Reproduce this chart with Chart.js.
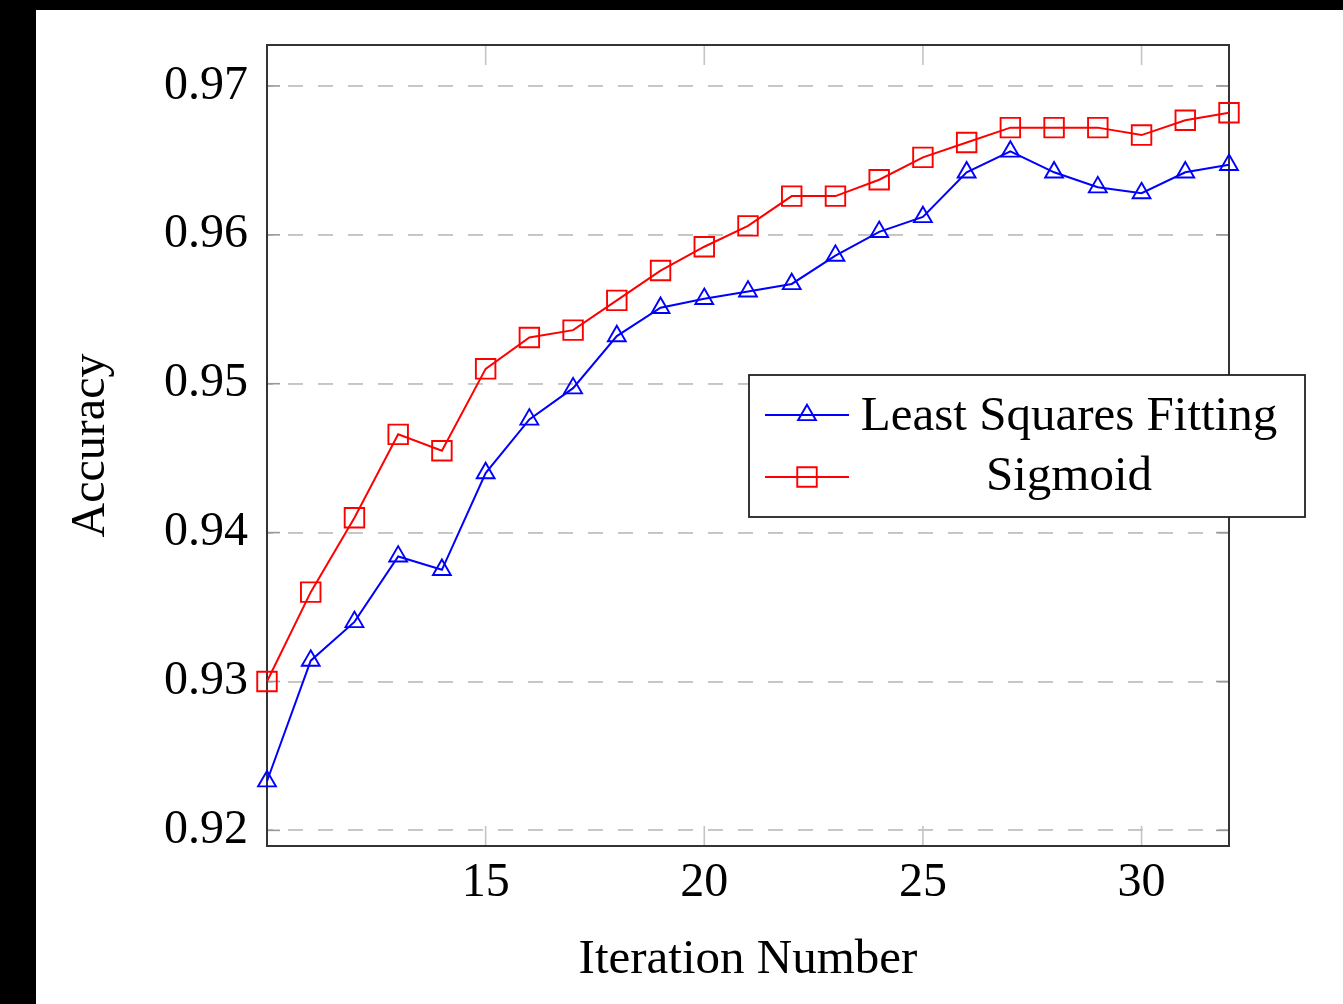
<!DOCTYPE html>
<html>
<head>
<meta charset="utf-8">
<title>Accuracy vs Iteration Number</title>
<script src="https://cdn.jsdelivr.net/npm/chart.js@4.4.0/dist/chart.umd.min.js"></script>
<style>
  html, body { margin: 0; padding: 0; background: #000; overflow: hidden; }
  #frame { position: absolute; left: 36px; top: 10px; width: 1307px; height: 994px; background: #fff; }
  canvas { display: block; }
</style>
</head>
<body>
<div id="frame"><canvas id="accuracyChart" width="1307" height="994"></canvas></div>
<script>
// Accuracy per iteration for the two fitting methods
const iterations = [10, 11, 12, 13, 14, 15, 16, 17, 18, 19, 20, 21, 22, 23, 24, 25, 26, 27, 28, 29, 30, 31, 32];
const leastSquaresAcc = [0.9233, 0.9314, 0.9340, 0.9384, 0.9375, 0.9440, 0.9476, 0.9497, 0.9532, 0.9551, 0.9557, 0.9562, 0.9567, 0.9586, 0.9602, 0.9612, 0.9642, 0.9656, 0.9642, 0.9632, 0.9628, 0.9642, 0.9647];
const sigmoidAcc = [0.9300, 0.9360, 0.9410, 0.9466, 0.9455, 0.9510, 0.9531, 0.9536, 0.9556, 0.9576, 0.9592, 0.9606, 0.9626, 0.9626, 0.9637, 0.9652, 0.9662, 0.9672, 0.9672, 0.9672, 0.9667, 0.9677, 0.9682];
const seriesNames = ['Least Squares Fitting', 'Sigmoid'];
const xTickValues = [15, 20, 25, 30];
const yTickValues = [0.92, 0.93, 0.94, 0.95, 0.96, 0.97];

const SERIF = "'Liberation Serif', 'DejaVu Serif', serif";

function toPoints(ys) {
    return iterations.map((x, i) => ({ x: x, y: ys[i] }));
}

function strokeLine(ctx, x1, y1, x2, y2) {
    ctx.beginPath();
    ctx.moveTo(x1, y1);
    ctx.lineTo(x2, y2);
    ctx.stroke();
}

// same geometry as chart.js point styles
function drawMarker(ctx, style, radius, x, y) {
    ctx.beginPath();
    if (style === 'triangle') {
        for (let k = 0; k < 3; k++) {
            const a = k * 2 * Math.PI / 3;
            const px = x + Math.sin(a) * radius;
            const py = y - Math.cos(a) * radius;
            if (k === 0) ctx.moveTo(px, py); else ctx.lineTo(px, py);
        }
        ctx.closePath();
    } else {
        const s = Math.SQRT1_2 * radius;
        ctx.rect(x - s, y - s, 2 * s, 2 * s);
    }
    ctx.stroke();
}

// pgfplots-like box: frame, inner ticks and a boxed legend
const axisFramePlugin = {
    id: 'axisFrame',
    beforeDatasetsDraw(chart) {
        const { ctx, chartArea: a, scales: { x, y } } = chart;
        ctx.save();
        ctx.lineWidth = 1.6;
        ctx.strokeStyle = '#c4c4c4';
        xTickValues.forEach(v => {
            const px = x.getPixelForValue(v);
            strokeLine(ctx, px, a.bottom, px, a.bottom - 20);
            strokeLine(ctx, px, a.top, px, a.top + 20);
        });
        ctx.strokeStyle = '#999';
        yTickValues.forEach(v => {
            const py = y.getPixelForValue(v);
            strokeLine(ctx, a.left, py, a.left + 13, py);
            strokeLine(ctx, a.right, py, a.right - 13, py);
        });
        ctx.lineWidth = 2;
        ctx.strokeStyle = '#333';
        ctx.strokeRect(a.left, a.top, a.right - a.left, a.bottom - a.top);
        ctx.restore();
    },
    afterDraw(chart) {
        const ctx = chart.ctx;
        const box = { left: 713, top: 365, width: 556, height: 142 };
        const rows = [405, 467];
        const baselines = [420, 480];
        ctx.save();
        ctx.fillStyle = '#fff';
        ctx.fillRect(box.left, box.top, box.width, box.height);
        ctx.lineWidth = 1.8;
        ctx.strokeStyle = '#222';
        ctx.strokeRect(box.left, box.top, box.width, box.height);

        chart.data.datasets.forEach((ds, i) => {
            ctx.strokeStyle = ds.borderColor;
            ctx.lineWidth = ds.borderWidth;
            strokeLine(ctx, 729, rows[i], 813, rows[i]);
            ctx.lineWidth = ds.pointBorderWidth;
            drawMarker(ctx, ds.pointStyle, ds.pointRadius, 771, rows[i]);
            ctx.fillStyle = '#000';
            ctx.font = '49px ' + SERIF;
            ctx.textAlign = 'center';
            ctx.textBaseline = 'alphabetic';
            ctx.fillText(ds.label, 1033, baselines[i]);
        });
        ctx.restore();
    }
};

const ctx = document.getElementById('accuracyChart').getContext('2d');
new Chart(ctx, {
    type: 'line',
    data: {
        datasets: [
            {
                label: seriesNames[0],
                data: toPoints(leastSquaresAcc),
                borderColor: '#0000ff',
                borderWidth: 2,
                pointStyle: 'triangle',
                pointRadius: 10.3,
                pointBorderWidth: 1.9,
                pointBorderColor: '#0000ff',
                pointBackgroundColor: 'rgba(0,0,0,0)',
                tension: 0,
                clip: false
            },
            {
                label: seriesNames[1],
                data: toPoints(sigmoidAcc),
                borderColor: '#ff0000',
                borderWidth: 2,
                pointStyle: 'rect',
                pointRadius: 13.8,
                pointBorderWidth: 1.9,
                pointBorderColor: '#ff0000',
                pointBackgroundColor: 'rgba(0,0,0,0)',
                tension: 0,
                clip: false
            }
        ]
    },
    options: {
        responsive: false,
        animation: false,
        devicePixelRatio: 1,
        layout: { padding: { left: 0, top: 35, right: 114, bottom: 0 } },
        plugins: {
            legend: { display: false },
            tooltip: { enabled: false }
        },
        scales: {
            x: {
                type: 'linear',
                min: 10,
                max: 32,
                afterBuildTicks: scale => { scale.ticks = xTickValues.map(v => ({ value: v })); },
                afterFit: scale => {
                    scale.height = 158;
                    scale.paddingLeft = 0;
                    scale.paddingRight = 0;
                },
                grid: { display: false, drawTicks: false },
                border: { display: false },
                ticks: {
                    padding: 9,
                    color: '#000',
                    font: { family: SERIF, size: 48 },
                    callback: v => String(v)
                },
                title: {
                    display: true,
                    text: 'Iteration Number',
                    color: '#000',
                    font: { family: SERIF, size: 49, lineHeight: 1 },
                    padding: { top: 0, bottom: 19 }
                }
            },
            y: {
                min: 0.91895,
                max: 0.97275,
                afterBuildTicks: scale => { scale.ticks = yTickValues.map(v => ({ value: v })); },
                afterFit: scale => {
                    scale.width = 231;
                    scale.paddingTop = 0;
                    scale.paddingBottom = 0;
                },
                grid: { color: '#c4c4c4', lineWidth: 1.9, drawTicks: false },
                border: { display: false, dash: [15, 15], dashOffset: 9 },
                ticks: {
                    padding: 19,
                    color: '#000',
                    font: { family: SERIF, size: 48 },
                    callback: v => v.toFixed(2)
                },
                title: {
                    display: true,
                    text: 'Accuracy',
                    color: '#000',
                    font: { family: SERIF, size: 48, lineHeight: 1 },
                    padding: { top: 31, bottom: 0 }
                }
            }
        }
    },
    plugins: [axisFramePlugin]
});
</script>
</body>
</html>
